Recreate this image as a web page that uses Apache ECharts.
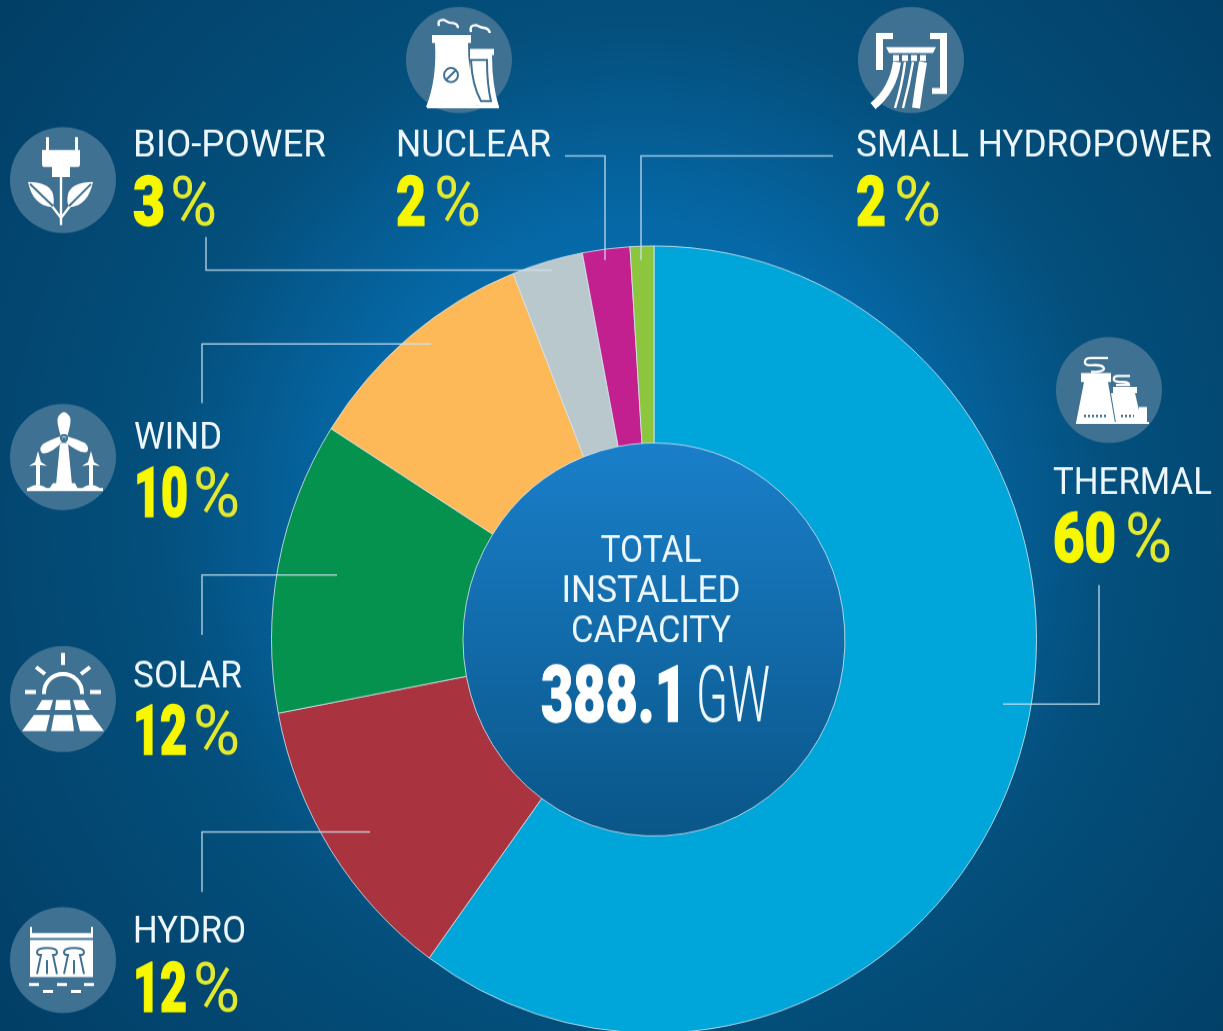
<!DOCTYPE html>
<html>
<head>
<meta charset="utf-8">
<title>Total installed capacity</title>
<script src="https://cdn.jsdelivr.net/npm/echarts@6/dist/echarts.min.js"></script>
<style>
  html, body { margin: 0; padding: 0; height: 1031px; background: #023f66; overflow: hidden; }
  /* the reference donut is a bit taller than wide, so the whole chart is stretched */
  #chart { width: 1223px; height: 1002px; transform: scaleY(1.029); transform-origin: 0 0; }
</style>
</head>
<body>
<div id="chart"></div>
<script>
const categories = ['THERMAL', 'HYDRO', 'SOLAR', 'WIND', 'BIO-POWER', 'NUCLEAR', 'SMALL HYDROPOWER'];
// slice sizes as drawn; the small hydro slice is drawn thinner than its printed 2 %
const sliceValues = [60, 12, 12, 10, 3, 2, 1];
const printedPercents = [60, 12, 12, 10, 3, 2, 2];
const sliceColors = ['#00a6da', '#a9343f', '#05924f', '#fdb957', '#b9c8cd', '#c21f8f', '#8cc63f'];
const totalLines = ['TOTAL', 'INSTALLED', 'CAPACITY'];
const totalValue = '388.1';
const totalUnit = 'GW';

const STRETCH = 1.029;
const Y = (y) => y / STRETCH;
const CIRCLE = '#3f7193';
const Z = 20;
const ASCENT = 0.755; // top aligned text, distance from top to baseline in em
const NAME_FONT = { css: '400 37px Roboto, sans-serif', px: 37 };
const DIGIT_FONT = { css: '900 66px Roboto, sans-serif', px: 66 };
const PCT_FONT = { css: '400 66px Roboto, sans-serif', px: 66 };
const TOTAL_FONT = { css: '900 76px Roboto, sans-serif', px: 76 };
const UNIT_FONT = { css: '300 76px Roboto, sans-serif', px: 76 };

// text scaled in x to the width it has in the picture, the original is a condensed face
const measure = document.createElement('canvas').getContext('2d');
const fit = (text, font, width) => {
  measure.font = font.css;
  return width / measure.measureText(text).width;
};

// picture coordinates, same order as categories
const layout = [
  { nameX: 1053, nameY: 494, nameW: 159, pctY: 562, digitW: 63, pctX: 1125, icon: [1109, 390], leader: [[1099, 585], [1099, 704], [1003, 704]] },
  { nameX: 133, nameY: 943, nameW: 113, pctY: 1012, digitW: 54, pctX: 193, icon: [63, 960], leader: [[202, 892], [202, 832], [370, 832]] },
  { nameX: 133, nameY: 688, nameW: 109, pctY: 755, digitW: 54, pctX: 193, icon: [63, 699], leader: [[202, 635], [202, 575], [337, 575]] },
  { nameX: 134, nameY: 449, nameW: 88, pctY: 517, digitW: 54, pctX: 193, icon: [63, 457], leader: [[202, 403], [202, 344], [431, 344]] },
  { nameX: 133, nameY: 157, nameW: 193, pctY: 226, digitW: 32, pctX: 170, icon: [63, 180], leader: [[206, 237], [206, 270], [552, 270]] },
  { nameX: 396, nameY: 157, nameW: 155, pctY: 226, digitW: 30, pctX: 434, icon: [459, 60], leader: [[565, 156], [605, 156], [605, 260]] },
  { nameX: 856, nameY: 157, nameW: 356, pctY: 226, digitW: 30, pctX: 894, icon: [911, 60], leader: [[833, 156], [641, 156], [641, 260]] }
];

// icon glyphs, local px from circle centre. fill = white shape, line = white stroke, cut = circle coloured stroke
const icons = [
  { // thermal
    fill: 'M-28-17H2V-8H-1L6 33H-33L-25-8H-28Z M4-3H28V3H26L33 33H7L2 3H4Z M30 17H38V33H30Z M-33 32H40V34H-33Z',
    line: 'M-1-32H-18Q-25-32-24-27Q-23-24-14-25Q-5-25-5-21Q-6-18-18-18 M21-14H9Q4-14 5-10Q6-8 14-8Q20-8 20-5H7',
    dots: 'M-25 26H-1 M12 26H25'
  },
  { // hydro
    fill: 'M-33-20H30V17H-33Z M-33-33H-31V-22H-33Z M28-33H30V-22H28Z M-33-27H30V-22H-33Z M-34 23H-24V26H-34Z M-6 23H4V26H-6Z M21 23H31V26H21Z M-20 30H-10V33H-20Z M8 30H18V33H8Z',
    cut: 'M-26-8Q-26-12-16-12Q-6-12-6-8Q-6-5-10-5L-6 14M-26-8Q-26-5-22-5L-26 14M-16 0V14 M1-8Q1-12 11-12Q21-12 21-8Q21-5 17-5L21 14M1-8Q1-5 5-5L1 14M11 0V14'
  },
  { // solar
    fill: 'M-21 1H-10L-13 11H-27Z M-7 1H7L8 11H-8Z M10 1H21L27 11H13Z M-29 16H-13L-17 32H-41Z M-9 16H9L11 32H-12Z M13 16H29L41 32H17Z',
    wide: 'M-19-5V-6A19 19 0 0 1 19-6V-5 M0-46V-34 M-27-32L-18-25 M27-32L18-25 M-38-7H-27 M38-7H27'
  },
  { // wind
    fill: 'M-2-20Q-7-36-5-40Q-2-45 1-45Q4-45 7-40Q9-36 4-20Z M-1-21Q-12-18-20-13Q-25-8-21-4Q-16-3-10-7Q-4-11 0-16Z M3-21Q14-18 22-14Q27-9 24-5Q18-4 12-8Q6-11 2-16Z M-3-14H5L9 28H-7Z M-36 31H40V34H-36Z M-10 26H12L15 32H-14Z M-36 32Q-26 24-15 32Z M18 32Q28 24 38 32Z M-25-6L-22 5L-16 9L-23 8V28H-27V8L-34 9L-28 5Z M28-6L31 5L37 9L30 8V28H26V8L19 9L25 5Z',
    cut: 'M4-19A3 3 0 1 1-2-19A3 3 0 1 1 4-19Z'
  },
  { // bio-power
    fill: 'M-21-30H17V-16Q17-13 14-13H7V-3H-11V-13H-18Q-21-13-21-16Z M-17-43H-14V-30H-17Z M12-43H15V-30H12Z M-35 2Q-14 2-10 14Q-8 24-11 27Q-30 26-35 2Z M30 2Q9 2 5 14Q3 24 7 27Q25 26 30 2Z',
    line: 'M-2-3V45 M-2 38L-11 26 M-2 38L7 26',
    cut: 'M-33 4L-10 26 M28 4L6 26'
  },
  { // nuclear
    fill: 'M-27-25H12V-17H9Q8 10 20 42L17 47H-33Q-22 20-24-17H-27Z M11-11H35V-5H33Q33 25 40 47H19Q10 25 11-5Z',
    line: 'M-20-34Q-22-41-15-40Q-11-37-6-37Q-1-36-1-32 M12-28Q10-35 17-35Q22-32 26-32Q30-31 31-27 M-32 47H40',
    cut: 'M12 0H28Q28 25 32 41H22Q13 25 12 0Z M-1 15A7 7 0 1 1-15 15A7 7 0 1 1-1 15Z M-13 20L-3 10'
  },
  { // small hydropower
    fill: 'M-35-27H-18V-21H-28V10H-35Z M19-27H36V34H21V28H29V-21H19Z M-25-13H25L22-7H-22Z M-18-5H-12V1H-18Z M-9-5H-3V1H-9Z M0-5H6V1H0Z M9-5H15V1H9Z',
    line: 'M-6 2Q-9 26-16 48 M2 2Q-2 26-8 48',
    thick: 'M-14 2Q-18 30-38 46 M12 2Q8 26 5 48'
  }
];

const hidden = { show: false };

const chart = echarts.init(document.getElementById('chart'), null, { renderer: 'canvas' });

// the graphic component has no plain path type, so each glyph part gets its own shape
const glyph = (name, d) => {
  echarts.graphic.registerShape(name, echarts.graphic.extendPath(d, {}));
  return name;
};

// y is the text baseline in picture coordinates; heavy thickens the glyphs a little
const textEl = (text, font, fill, x, y, width, align, heavy) => ({
  type: 'text',
  z: Z,
  x,
  y: Y(y) - font.px * ASCENT,
  scaleX: fit(text, font, width),
  style: {
    text,
    font: font.css,
    fill,
    align: align || 'left',
    verticalAlign: 'top',
    stroke: heavy ? fill : null,
    lineWidth: heavy ? 1.4 : 0
  }
});

const graphics = [];
categories.forEach((name, i) => {
  const l = layout[i];
  const icon = icons[i];
  graphics.push({
    type: 'polyline', z: Z,
    shape: { points: l.leader.map((p) => [p[0], Y(p[1])]) },
    style: { stroke: 'rgba(205,228,242,0.8)', lineWidth: 1.5, fill: 'none' }
  });
  graphics.push(textEl(name, NAME_FONT, '#eef7fb', l.nameX, l.nameY, l.nameW));
  graphics.push(textEl(String(printedPercents[i]), DIGIT_FONT, '#f7f700', l.nameX, l.pctY, l.digitW, 'left', true));
  graphics.push(textEl('%', PCT_FONT, '#e3ea2e', l.pctX, l.pctY, 47));

  const parts = [{ type: 'circle', z: Z, shape: { cx: 0, cy: 0, r: 53 }, style: { fill: CIRCLE } }];
  const part = (key, style) => {
    if (icon[key]) parts.push({ type: glyph(`icon${i}${key}`, icon[key]), z: Z + 1, style });
  };
  part('fill', { fill: '#fff' });
  part('line', { fill: 'none', stroke: '#fff', lineWidth: 2.4 });
  part('wide', { fill: 'none', stroke: '#fff', lineWidth: 4 });
  part('thick', { fill: 'none', stroke: '#fff', lineWidth: 8 });
  part('cut', { fill: 'none', stroke: CIRCLE, lineWidth: 2 });
  part('dots', { fill: 'none', stroke: CIRCLE, lineWidth: 2.5, lineDash: [2, 2] });
  graphics.push({ type: 'group', x: l.icon[0], y: Y(l.icon[1]), scaleY: 1 / STRETCH, children: parts });
});

// centre block
const lineY = [562, 602, 642];
const lineW = [101, 179, 160];
totalLines.forEach((t, i) => {
  graphics.push(textEl(t, NAME_FONT, '#eef7fb', 651, lineY[i], lineW[i], 'center'));
});
graphics.push(textEl(totalValue, TOTAL_FONT, '#fff', 541, 722, 146, 'left', true));
graphics.push(textEl(totalUnit, UNIT_FONT, '#eef7fb', 696, 722, 74));

chart.setOption({
  animation: false,
  backgroundColor: new echarts.graphic.RadialGradient(0.52, 0.5, 0.8, [
    { offset: 0, color: '#0a78bd' },
    { offset: 0.36, color: '#0668a6' },
    { offset: 0.6, color: '#044f7c' },
    { offset: 1, color: '#023f66' }
  ]),
  graphic: { elements: graphics },
  series: [
    {
      type: 'pie',
      silent: true,
      center: [654, Y(639.5)],
      radius: [0, 191],
      label: hidden,
      labelLine: hidden,
      itemStyle: {
        color: new echarts.graphic.LinearGradient(0, 0, 0, 1, [
          { offset: 0, color: '#1a7fca' },
          { offset: 1, color: '#0a5688' }
        ])
      },
      data: [{ name: 'TOTAL', value: 388.1 }]
    },
    {
      type: 'pie',
      silent: true,
      center: [654, Y(639.5)],
      radius: [191, 382.5],
      startAngle: 90,
      clockwise: true,
      label: hidden,
      labelLine: hidden,
      itemStyle: { borderColor: '#dce9ef', borderWidth: 0.8 },
      data: categories.map((name, i) => ({
        name,
        value: sliceValues[i],
        itemStyle: { color: sliceColors[i] }
      }))
    }
  ]
});

window.addEventListener('resize', () => chart.resize());
</script>
</body>
</html>
